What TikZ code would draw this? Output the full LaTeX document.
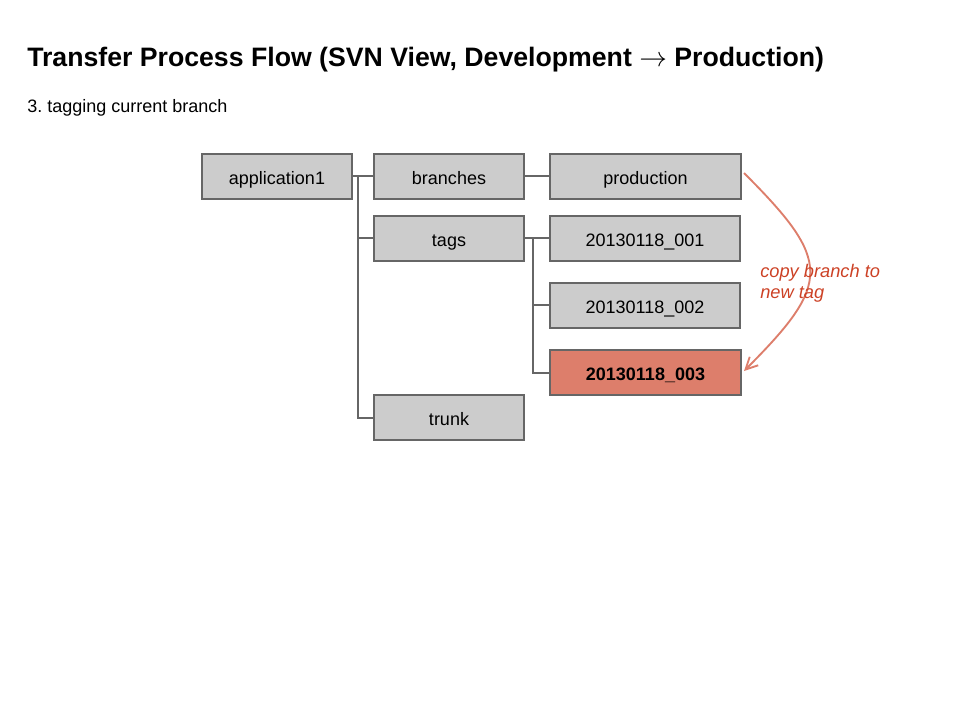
\documentclass[tikz,border=0pt]{standalone}
\usepackage{fontspec}
\setmainfont{Liberation Sans}
\usetikzlibrary{arrows.meta}
\definecolor{boxgray}{HTML}{CCCCCC}
\definecolor{edgegray}{HTML}{666666}
\definecolor{berry}{HTML}{DD7E6B}
\definecolor{labelred}{HTML}{CC4125}
\tikzset{
  folder/.style={draw=edgegray, line width=1.5pt, fill=boxgray, minimum height=45*0.75pt,
    inner sep=0pt, text height=11.85pt, text depth=0pt,
    font=\fontsize{13.5pt}{16pt}\selectfont, text=black},
  link/.style={draw=edgegray, line width=1.5pt},
  copyarrow/.style={draw=berry, line width=1.4pt, -{Straight Barb[length=9pt,width=9pt,line width=1.4pt]}},
  plain/.style={inner sep=0pt, anchor=base west}
}
\begin{document}
\begin{tikzpicture}[x=0.75pt,y=-0.75pt]
\useasboundingbox (0,0) rectangle (960,720);
\node[plain, font=\fontsize{20pt}{24pt}\selectfont\bfseries] (title) at (27,67) {Transfer Process Flow (SVN View, Development $\rightarrow$ Production)};
\node[plain, font=\fontsize{13.5pt}{16pt}\selectfont] (sub) at (27,113) {3.\ tagging current branch};

\node[folder, minimum width=150*0.75pt] (app) at (277,176.5) {application1};
\node[folder, minimum width=150*0.75pt] (branches) at (449,176.5) {branches};
\node[folder, minimum width=191*0.75pt] (prod) at (645.5,176.5) {production};
\node[folder, minimum width=150*0.75pt] (tags) at (449,238.5) {tags};
\node[folder, minimum width=190*0.75pt] (t1) at (645,238.5) {20130118\_001};
\node[folder, minimum width=190*0.75pt] (t2) at (645,305.5) {20130118\_002};
\node[folder, minimum width=191*0.75pt, fill=berry, font=\fontsize{13.5pt}{16pt}\selectfont\bfseries] (t3) at (645.5,372.5) {20130118\_003};
\node[folder, minimum width=150*0.75pt] (trunk) at (449,417.5) {trunk};

\coordinate (j1) at (358,176.5);
\coordinate (j2) at (533,238.5);
\draw[link] (app.east) -- (branches.west);
\draw[link] (j1) |- (tags.west);
\draw[link] (j1) |- (trunk.west);
\draw[link] (branches.east) -- (prod.west);
\draw[link] (tags.east) -- (t1.west);
\draw[link] (j2) |- (t2.west);
\draw[link] (j2) |- (t3.west);

\coordinate (a0) at (744,173);
\coordinate (a1) at (744,371);
\draw[copyarrow] (a0) .. controls (832,261) and (832,283) .. (a1);

\node[plain, text=labelred, font=\fontsize{13.7pt}{16pt}\selectfont\itshape] (lbl1) at (760,277) {copy branch to};
\node[plain, text=labelred, font=\fontsize{13.7pt}{16pt}\selectfont\itshape] (lbl2) at (760,299) {new tag};
\end{tikzpicture}
\end{document}
